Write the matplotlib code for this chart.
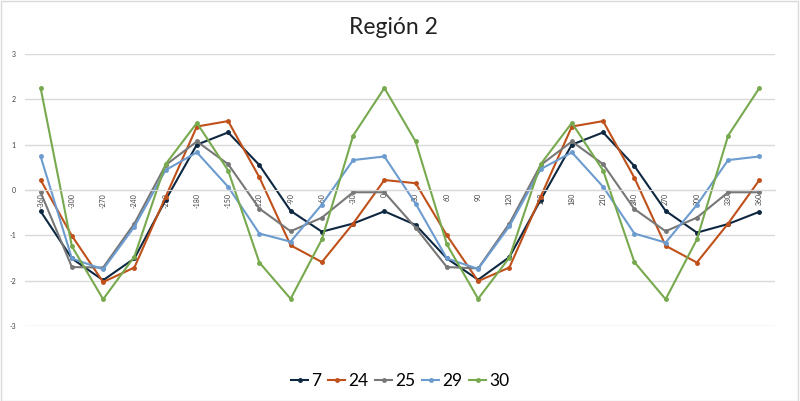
import matplotlib
matplotlib.use("Agg")
import matplotlib.pyplot as plt
from matplotlib.patches import Rectangle

categories = ["-360", "-300", "-270", "-240", "-210", "-180", "-150", "-120",
              "-90", "-60", "-30", "0", "30", "60", "90", "120", "150", "180",
              "210", "240", "270", "300", "330", "360"]

s7 = [-0.47, -1.51, -1.99, -1.51, -0.22, 1.00, 1.27, 0.55, -0.46, -0.92, -0.74, -0.47,
      -0.77, -1.51, -1.98, -1.48, -0.22, 1.00, 1.27, 0.53, -0.46, -0.94, -0.75, -0.48]
s24 = [0.22, -1.01, -2.03, -1.71, -0.15, 1.40, 1.52, 0.28, -1.22, -1.59, -0.74, 0.22,
       0.15, -1.00, -2.01, -1.71, -0.15, 1.40, 1.52, 0.27, -1.23, -1.60, -0.74, 0.22]
s25 = [-0.05, -1.70, -1.71, -0.74, 0.55, 1.07, 0.57, -0.41, -0.91, -0.61, -0.05, -0.05,
       -0.83, -1.70, -1.73, -0.74, 0.55, 1.07, 0.57, -0.42, -0.91, -0.61, -0.05, -0.05]
s29 = [0.74, -1.51, -1.75, -0.81, 0.44, 0.83, 0.07, -0.96, -1.14, -0.32, 0.66, 0.74,
       -0.30, -1.51, -1.74, -0.80, 0.46, 0.83, 0.07, -0.96, -1.16, -0.33, 0.66, 0.74]
s30 = [2.25, -1.24, -2.41, -1.47, 0.57, 1.48, 0.43, -1.60, -2.40, -1.09, 1.20, 2.25,
       1.07, -1.20, -2.40, -1.49, 0.57, 1.48, 0.43, -1.59, -2.41, -1.09, 1.20, 2.25]

series_names = ["7", "24", "25", "29", "30"]
series_values = [s7, s24, s25, s29, s30]
colors = ["#0E2841", "#C0501A", "#777777", "#6C9BCF", "#77A94E"]

plt.rcParams["font.family"] = ["Lato", "DejaVu Sans"]

fig = plt.figure(figsize=(8.0, 4.01), dpi=100)
fig.patches.append(Rectangle((0.001, 0.001), 0.997, 0.997, transform=fig.transFigure,
                             fill=False, edgecolor="#D9D9D9", linewidth=1.0))

ax = fig.add_axes([25/800, 1 - 326/401, 750/800, (326 - 54)/401])
x = list(range(len(categories)))
for name, vals, c in zip(series_names, series_values, colors):
    ax.plot(x, vals, color=c, linewidth=1.5, marker="o", markersize=2.5, label=name)

ax.set_xlim(-0.5, len(categories) - 0.5)
ax.set_ylim(-3, 3)
ax.set_yticks([-3, -2, -1, 0, 1, 2, 3])
ax.set_yticklabels(["-3", "-2", "-1", "0", "1", "2", "3"], fontsize=5, color="#404040")
ax.yaxis.grid(True, color="#D9D9D9", linewidth=1.0)
ax.set_axisbelow(True)
for side in ["left", "right", "top"]:
    ax.spines[side].set_visible(False)
ax.spines["bottom"].set_position(("data", 0))
ax.spines["bottom"].set_color("#D9D9D9")
ax.tick_params(axis="y", length=0, pad=6.5)
ax.set_xticks(x)
ax.set_xticklabels(categories, rotation=90, fontsize=5, color="#404040")
ax.tick_params(axis="x", length=0, pad=2)

fig.text(393/800, 1 - 28/401, "Región 2", ha="center", va="center", fontsize=16.5, color="#222222")
fig.legend(loc="center", bbox_to_anchor=(0.5, 1 - 381/401), ncol=5, frameon=False,
           fontsize=12.5, handlelength=1.0, handletextpad=0.15, columnspacing=0.4)

fig.savefig("out.png", dpi=100)
